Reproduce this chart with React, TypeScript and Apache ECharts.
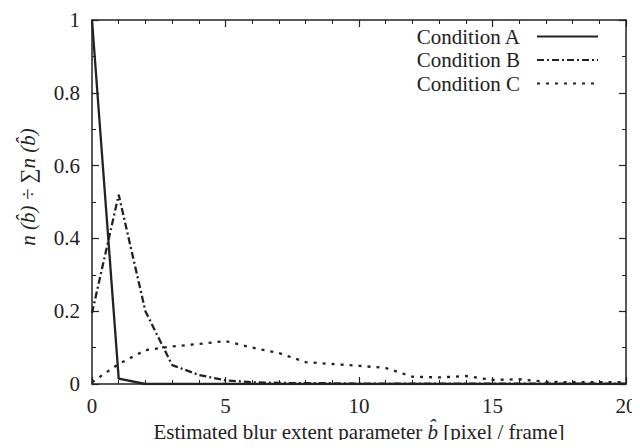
import React, { useEffect, useRef } from "react";
import * as echarts from "echarts";

const xValues = [0, 1, 2, 3, 4, 5, 6, 7, 8, 9, 10, 11, 12, 13, 14, 15, 16, 17, 18, 19, 20];
const conditionA = [1.0, 0.015, 0.0, 0.0, 0.0, 0.0, 0.0, 0.0, 0.0, 0.0, 0.0, 0.0, 0.0, 0.0, 0.0, 0.0, 0.0, 0.0, 0.0, 0.0, 0.0];
const conditionB = [0.195, 0.52, 0.2, 0.052, 0.025, 0.01, 0.005, 0.003, 0.002, 0.002, 0.001, 0.001, 0.001, 0.001, 0.001, 0.001, 0.001, 0.001, 0.001, 0.001, 0.001];
const conditionC = [0.005, 0.055, 0.093, 0.103, 0.11, 0.118, 0.1, 0.085, 0.06, 0.055, 0.05, 0.044, 0.02, 0.018, 0.022, 0.011, 0.013, 0.006, 0.005, 0.005, 0.005];
const seriesNames = ["Condition A", "Condition B", "Condition C"];
const yAxisTitle = "n (b\u0302) \u00f7 \u2211n (b\u0302)";
const xAxisTitle = "Estimated blur extent parameter {i|b\u0302} [pixel / frame]";

const FONT = "'Liberation Serif', 'Times New Roman', serif";
const FS = 21;
const INK = "#222";

export default function App() {
  const ref = useRef<HTMLDivElement>(null);
  useEffect(() => {
    if (!ref.current) return;
    const chart = echarts.init(ref.current, undefined, { renderer: "svg" });
    const toPairs = (arr: number[]) => xValues.map((x, i) => [x, arr[i]]);
    const axisCommon = {
      axisLine: { show: true, onZero: false, lineStyle: { color: INK, width: 1.5 } },
      axisTick: { show: true, inside: true, length: 7, lineStyle: { color: INK, width: 1.2 } },
      minorTick: { show: true, length: 4, lineStyle: { color: INK, width: 1 } },
      splitLine: { show: false },
    };
    chart.setOption({
      animation: false,
      backgroundColor: "#fff",
      textStyle: { fontFamily: FONT },
      grid: { left: 92, right: 14, top: 20, bottom: 64 },
      legend: {
        data: seriesNames,
        orient: "vertical",
        right: 41,
        top: 26,
        align: "right",
        itemWidth: 61,
        itemHeight: 10,
        itemGap: 2.5,
        padding: 0,
        itemStyle: { opacity: 0 },
        textStyle: { fontFamily: FONT, fontSize: FS, color: INK, padding: [0, 12, 0, 0] },
      },
      graphic: [
        {
          type: "text",
          x: 28,
          y: 187,
          rotation: Math.PI / 2,
          style: {
            text: yAxisTitle,
            fontFamily: FONT,
            fontSize: FS,
            fontStyle: "italic",
            fill: INK,
            align: "center",
            verticalAlign: "middle",
          },
        },
      ],
      xAxis: [
        {
          type: "value",
          min: 0,
          max: 20,
          interval: 5,
          ...axisCommon,
          minorTick: { ...axisCommon.minorTick, splitNumber: 5 },
          axisLabel: { fontFamily: FONT, fontSize: FS, color: INK, margin: 11 },
          name: xAxisTitle,
          nameLocation: "middle",
          nameGap: 37,
          nameTextStyle: {
            fontFamily: FONT,
            fontSize: FS,
            color: INK,
            rich: { i: { fontFamily: FONT, fontSize: FS, fontStyle: "italic", color: INK } },
          },
        },
        {
          type: "value",
          position: "top",
          min: 0,
          max: 20,
          interval: 5,
          ...axisCommon,
          minorTick: { ...axisCommon.minorTick, splitNumber: 5 },
          axisLabel: { show: false },
        },
      ],
      yAxis: [
        {
          type: "value",
          min: 0,
          max: 1,
          interval: 0.2,
          ...axisCommon,
          minorTick: { ...axisCommon.minorTick, splitNumber: 2 },
          axisLabel: { fontFamily: FONT, fontSize: FS, color: INK, margin: 12 },
        },
        {
          type: "value",
          position: "right",
          min: 0,
          max: 1,
          interval: 0.2,
          ...axisCommon,
          minorTick: { ...axisCommon.minorTick, splitNumber: 2 },
          axisLabel: { show: false },
        },
      ],
      series: [
        {
          name: seriesNames[0],
          type: "line",
          data: toPairs(conditionA),
          showSymbol: false,
          symbol: "none",
          lineStyle: { color: INK, width: 2.3, type: "solid" },
          itemStyle: { color: INK },
        },
        {
          name: seriesNames[1],
          type: "line",
          data: toPairs(conditionB),
          showSymbol: false,
          symbol: "none",
          lineStyle: { color: INK, width: 2.3, type: [7, 3, 2, 3] },
          itemStyle: { color: INK },
        },
        {
          name: seriesNames[2],
          type: "line",
          data: toPairs(conditionC),
          showSymbol: false,
          symbol: "none",
          lineStyle: { color: INK, width: 2.3, type: [3, 6] },
          itemStyle: { color: INK },
        },
      ],
    });
    return () => chart.dispose();
  }, []);
  return <div ref={ref} style={{ width: 640, height: 448, margin: -8 }} />;
}
